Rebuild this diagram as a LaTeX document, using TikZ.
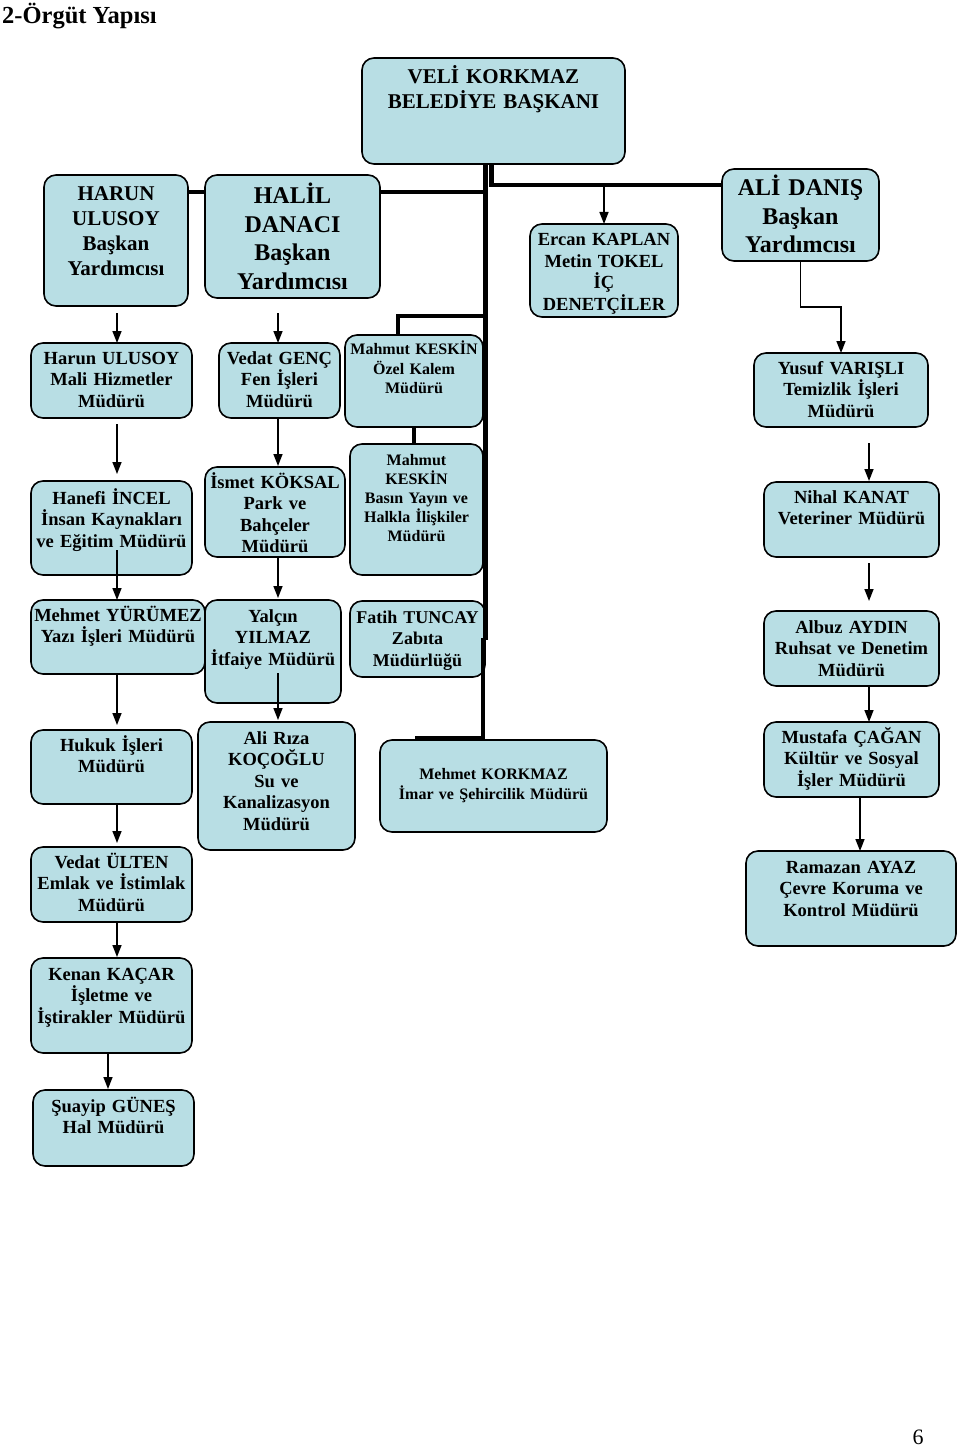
\documentclass[tikz,border=0pt]{standalone}
\usepackage{fontspec}
\setmainfont{Liberation Serif}
\usepackage{tikz}
\usetikzlibrary{calc,arrows.meta}
\definecolor{kutu}{RGB}{184,222,228}

\tikzset{
  box/.style={draw, fill=kutu, line width=1.6pt, rounded corners=12pt,
    anchor=north west, align=center, inner xsep=2pt, inner ysep=0pt,
    outer sep=0pt, text height=21pt,
    font=\bfseries\fontsize{18.5}{21.5}\selectfont},
  buyuk/.style={font=\bfseries\fontsize{24}{28.5}\selectfont},
  orta/.style={font=\bfseries\fontsize{21}{25}\selectfont},
  kucuk/.style={font=\bfseries\fontsize{16}{19.5}\selectfont},
  kalin/.style={line width=4.5pt},
  okcizgi/.style={line width=1.5pt, -{Triangle[length=12pt,width=9pt]}}
}

\begin{document}
\begin{tikzpicture}[x=1pt,y=-1pt]
    \useasboundingbox (0,0) rectangle (960,1447);
    \node[anchor=west, inner sep=0pt, font=\bfseries\fontsize{24.5}{28}\selectfont] (baslik) at (2,16) {2-Örgüt Yapısı};
    \node[font=\fontsize{22}{26}\selectfont] (sayfa) at (918,1437) {6};

    % baskan ve yardimcilar
    \node[box, orta, text width=259pt, text height=26pt, text depth=80pt] (baskan) at (362,58) {VELİ KORKMAZ\\BELEDİYE BAŞKANI};
    \node[box, orta, text width=140pt, text height=26pt, text depth=105pt] (harunby) at (44,175) {HARUN\\ULUSOY\\Başkan\\Yardımcısı};
    \node[box, buyuk, text width=171pt, text height=29pt, text depth=94pt] (halil) at (205,175) {HALİL\\DANACI\\Başkan\\Yardımcısı};
    \node[box, text width=144pt, text height=22pt, text depth=71pt] (denetci) at (530,224) {Ercan KAPLAN\\Metin TOKEL\\İÇ\\DENETÇİLER};
    \node[box, buyuk, text width=153pt, text height=27pt, text depth=65pt] (ali) at (722,169) {ALİ DANIŞ\\Başkan\\Yardımcısı};

    % orta kolon
    \node[box, kucuk, text width=134pt, text height=19.5pt, text depth=72.5pt] (ozelkalem) at (345,335) {Mahmut KESKİN\\Özel Kalem\\Müdürü};
    \node[box, font=\bfseries\fontsize{16}{19}\selectfont, text width=129pt, text height=21.5pt, text depth=109.5pt] (basin) at (350,444) {Mahmut\\KESKİN\\Basın Yayın ve\\Halkla İlişkiler\\Müdürü};
    \node[box, font=\bfseries\fontsize{18}{21.5}\selectfont, text width=131pt, text height=22pt, text depth=54pt] (zabita) at (350,601) {Fatih TUNCAY\\Zabıta\\Müdürlüğü};
    \node[box, font=\bfseries\fontsize{16}{20}\selectfont, text width=223pt, text height=39.5pt, text depth=52.5pt] (imar) at (380,740) {Mehmet KORKMAZ\\İmar ve Şehircilik Müdürü};

    % sol kolon
    \node[box, text width=157pt, text depth=54pt] (mali) at (31,343) {Harun ULUSOY\\Mali Hizmetler\\Müdürü};
    \node[box, text width=157pt, text height=23pt, text depth=71pt] (insan) at (31,481) {Hanefi İNCEL\\İnsan Kaynakları\\ve Eğitim Müdürü};
    \node[box, text width=170pt, text depth=53pt] (yazi) at (31,600) {Mehmet YÜRÜMEZ\\Yazı İşleri Müdürü};
    \node[box, text width=157pt, text depth=53pt] (hukuk) at (31,730) {Hukuk İşleri\\Müdürü};
    \node[box, text width=157pt, text depth=54pt] (emlak) at (31,847) {Vedat ÜLTEN\\Emlak ve İstimlak\\Müdürü};
    \node[box, text width=157pt, text height=22pt, text depth=73pt] (isletme) at (31,958) {Kenan KAÇAR\\İşletme ve\\İştirakler Müdürü};
    \node[box, text width=157pt, text height=22pt, text depth=54pt] (hal) at (33,1090) {Şuayip GÜNEŞ\\Hal Müdürü};

    % ikinci kolon
    \node[box, text width=117pt, text depth=54pt] (fen) at (219,343) {Vedat GENÇ\\Fen İşleri\\Müdürü};
    \node[box, text width=136pt, text depth=69pt] (park) at (205,467) {İsmet KÖKSAL\\Park ve\\Bahçeler\\Müdürü};
    \node[box, text width=132pt, text height=22pt, text depth=81pt] (itfaiye) at (205,600) {Yalçın\\YILMAZ\\İtfaiye Müdürü};
    \node[box, text width=153pt, text height=22pt, text depth=106pt] (su) at (198,722) {Ali Rıza\\KOÇOĞLU\\Su ve\\Kanalizasyon\\Müdürü};

    % sag kolon
    \node[box, text width=170pt, text depth=53pt] (temizlik) at (754,353) {Yusuf VARIŞLI\\Temizlik İşleri\\Müdürü};
    \node[box, text width=171pt, text depth=54pt] (veteriner) at (764,482) {Nihal KANAT\\Veteriner Müdürü};
    \node[box, text width=171pt, text height=22pt, text depth=53pt] (ruhsat) at (764,611) {Albuz AYDIN\\Ruhsat ve Denetim\\Müdürü};
    \node[box, text width=171pt, text depth=54pt] (kultur) at (764,722) {Mustafa ÇAĞAN\\Kültür ve Sosyal\\İşler Müdürü};
    \node[box, text width=206pt, text height=22pt, text depth=73pt] (cevre) at (746,851) {Ramazan AYAZ\\Çevre Koruma ve\\Kontrol Müdürü};

    % ana hatlar
    \coordinate (trunktop) at ($(baskan.south)+(-8,0)$);
    \coordinate (trunkmid) at ($(trunktop)+(0,476)$);
    \coordinate (imarjoin) at ($(imar.north)+(-79,-2.5)$);
    \coordinate (alijoin) at ($(ali.west)+(0,-30)$);
    \coordinate (halijoin) at ($(halil.east)+(0,-44.5)$);
    \coordinate (ozeljoin) at ($(ozelkalem.north)+(-16,-19)$);
    \draw[kalin] (trunktop) -- (trunkmid);
    \draw[line width=4pt] ($(trunkmid)+(-3,-2)$) |- (imarjoin);
    \draw[kalin] ($(baskan.south)+(-2,0)$) |- (alijoin);
    \draw[kalin] (halijoin) -- (halijoin -| trunktop);
    \draw[kalin] (halijoin -| harunby.east) -- (halijoin -| halil.west);
    \draw[kalin] (ozeljoin -| trunktop) -- (ozeljoin) -- (ozeljoin |- ozelkalem.north);
    \draw[kalin] (ozelkalem.south) -- (ozelkalem.south |- basin.north);

    % oklar
    \draw[okcizgi] (alijoin -| denetci.north) -- (denetci.north);
    \draw[okcizgi] (ali.south) |- ($(temizlik.north)+(0,-46)$) -- (temizlik.north);

    \draw[okcizgi] ($(harunby.south)+(1,7)$) -- ($(mali.north)+(5.5,0)$);
    \draw[okcizgi] ($(mali.south)+(5.5,6)$) -- ($(insan.north)+(5.5,-7)$);
    \draw[okcizgi] ($(insan.south)+(5.5,-25)$) -- ($(yazi.north)+(-1,0)$);
    \draw[okcizgi] ($(yazi.south)+(-1,0)$) -- ($(hukuk.north)+(5.5,-5)$);
    \draw[okcizgi] ($(hukuk.south)+(5.5,0)$) -- ($(emlak.north)+(5.5,-4)$);
    \draw[okcizgi] ($(emlak.south)+(5.5,0)$) -- ($(isletme.north)+(5.5,-1)$);
    \draw[okcizgi] ($(isletme.south)+(-3.5,0)$) -- ($(hal.north)+(-5.5,-1)$);

    \draw[okcizgi] ($(halil.south)+(-14.5,15)$) -- ($(fen.north)+(-1.5,0)$);
    \draw[okcizgi] ($(fen.south)+(-1.5,0)$) -- ($(park.north)+(3,-1)$);
    \draw[okcizgi] ($(park.south)+(3,0)$) -- ($(itfaiye.north)+(5,-2)$);
    \draw[okcizgi] ($(itfaiye.south)+(5,-30)$) -- ($(su.north)+(1.5,-2)$);

    \draw[okcizgi] ($(temizlik.south)+(28,16)$) -- ($(veteriner.north)+(17.5,-1)$);
    \draw[okcizgi] ($(veteriner.south)+(17.5,6)$) -- ($(ruhsat.north)+(17.5,-10)$);
    \draw[okcizgi] ($(ruhsat.south)+(17.5,0)$) -- ($(kultur.north)+(17.5,0)$);
    \draw[okcizgi] ($(kultur.south)+(8.5,0)$) -- ($(cevre.north)+(9,0)$);
\end{tikzpicture}
\end{document}
